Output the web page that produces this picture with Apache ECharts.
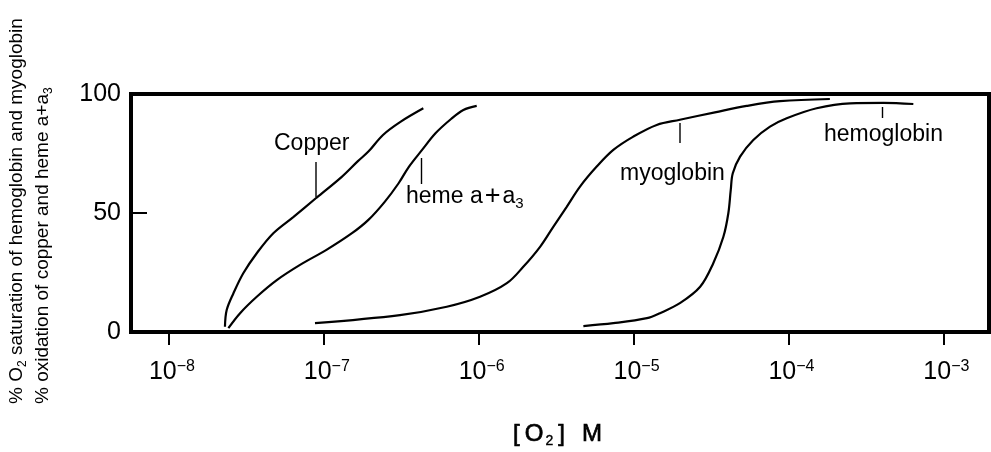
<!DOCTYPE html>
<html>
<head>
<meta charset="utf-8">
<script src="https://cdn.jsdelivr.net/npm/echarts@6/dist/echarts.min.js"></script>
<style>
  html, body { margin: 0; padding: 0; background: #fff; }
  #chart { width: 991px; height: 452px; }
</style>
</head>
<body>
<div id="chart"></div>
<script>
// Oxygen binding / oxidation curves versus O2 concentration (M), log scale.
// Each point: [O2 concentration in M, percent]
const copperData = [
  [2.30e-8, 2.2], [2.36e-8, 9.2], [2.61e-8, 16.3], [3.02e-8, 24.7], [3.69e-8, 33.1],
  [4.72e-8, 41.5], [6.35e-8, 48.3], [9.0e-8, 56.5], [1.30e-7, 65.1], [1.66e-7, 71.8],
  [1.94e-7, 75.8], [2.41e-7, 82.8], [3.14e-7, 88.4], [4.39e-7, 94.0]
];
const hemeData = [
  [2.42e-8, 1.6], [2.88e-8, 7.9], [3.69e-8, 14.8], [4.97e-8, 21.8], [7.02e-8, 28.2],
  [1.04e-7, 34.5], [1.52e-7, 41.5], [1.94e-7, 47.1], [2.48e-7, 54.8], [3.04e-7, 62.5],
  [3.55e-7, 69.5], [4.31e-7, 76.5], [5.26e-7, 83.5], [6.63e-7, 89.5], [7.96e-7, 93.3],
  [9.71e-7, 95.0]
];
const myoglobinData = [
  [8.77e-8, 3.7], [3.10e-7, 7.1], [6.22e-7, 10.6], [1.02e-6, 14.8], [1.52e-6, 20.5],
  [1.94e-6, 27.4], [2.49e-6, 35.8], [3.03e-6, 44.2], [3.70e-6, 52.6], [4.51e-6, 61.1],
  [5.78e-6, 69.5], [7.40e-6, 76.5], [9.96e-6, 82.1], [1.41e-5, 87.0], [1.99e-5, 89.2],
  [3.35e-5, 92.3], [5.37e-5, 95.0], [8.82e-5, 97.0], [1.85e-4, 97.9]
];
const hemoglobinData = [
  [4.74e-6, 2.5], [7.40e-6, 3.7], [1.22e-5, 5.8], [1.48e-5, 7.9], [1.99e-5, 12.1],
  [2.69e-5, 19.0], [3.27e-5, 28.9], [3.80e-5, 40.0], [4.09e-5, 49.9], [4.24e-5, 59.7],
  [4.37e-5, 66.7], [4.87e-5, 73.7], [5.93e-5, 80.7], [7.60e-5, 86.3], [9.74e-5, 89.8],
  [1.52e-4, 94.0], [2.50e-4, 96.1], [4.10e-4, 96.3], [6.40e-4, 95.8]
];

// Decade ticks on the concentration axis and percent ticks
const decadeExponents = [-8, -7, -6, -5, -4, -3];
const percentTicks = [0, 50, 100];

const decadeValues = decadeExponents.map(e => Math.pow(10, e));

const FONT = "'Liberation Sans', Arial, sans-serif";
const NARROW = "'Liberation Sans Narrow', 'Liberation Sans', Arial, sans-serif";

const chart = echarts.init(document.getElementById('chart'), null, { renderer: 'canvas' });

const lineSeries = (name, data) => ({
  name: name,
  type: 'line',
  data: data,
  showSymbol: false,
  smooth: 0.35,
  lineStyle: { color: '#000', width: 2.2 },
  silent: true,
  z: 3
});

const leader = (x, y1, y2) => ({
  type: 'line',
  shape: { x1: x, y1: y1, x2: x, y2: y2 },
  style: { stroke: '#000', lineWidth: 1.4 },
  z: 10
});

const curveLabel = (x, y, text) => ({
  type: 'text',
  x: x, y: y,
  style: {
    text: text,
    fill: '#000',
    font: "23px " + FONT,
    align: 'left',
    verticalAlign: 'middle',
    rich: {
      t: { fontSize: 23, fontFamily: FONT, lineHeight: 28, fill: '#000' },
      p: { fontSize: 27, fontFamily: FONT, lineHeight: 28, fill: '#000', padding: [0, 2, 0, 2] },
      sub: { fontSize: 15, fontFamily: FONT, lineHeight: 16, verticalAlign: 'bottom', fill: '#000' }
    }
  },
  z: 10
});

const titleRich = {
  t: { fontSize: 19, fontFamily: FONT, lineHeight: 24, fill: '#000' },
  sub: { fontSize: 12, fontFamily: FONT, lineHeight: 14, verticalAlign: 'bottom', fill: '#000' }
};

// shared style for the concentration axis title
const axisTitleStyle = (extra) => Object.assign({
  fontSize: 24, fontFamily: FONT, lineHeight: 28, fill: '#000',
  stroke: '#000', lineWidth: 0.7
}, extra);

chart.setOption({
  animation: false,
  backgroundColor: '#fff',
  grid: {
    show: true,
    left: 131, right: 2, top: 94, bottom: 120,
    borderColor: '#000',
    borderWidth: 4,
    backgroundColor: 'transparent'
  },
  xAxis: {
    type: 'log',
    logBase: 10,
    min: 5.69e-9,
    max: 1.971e-3,
    axisLine: { show: false },
    splitLine: { show: false },
    minorTick: { show: false },
    axisTick: {
      show: true,
      customValues: decadeValues,
      length: 13,
      lineStyle: { color: '#000', width: 2 }
    },
    axisLabel: {
      customValues: decadeValues,
      margin: 27,
      showMinLabel: true,
      showMaxLabel: true,
      formatter: function (v) {
        const e = Math.round(Math.log10(v));
        return '{b|10}{s|\u2212' + Math.abs(e) + '}';
      },
      rich: {
        b: { fontSize: 25, fontFamily: FONT, lineHeight: 26, color: '#000', padding: [0, 0, 0, 6] },
        s: { fontSize: 16, fontFamily: FONT, lineHeight: 16, verticalAlign: 'top', color: '#000' }
      }
    }
  },
  yAxis: {
    type: 'value',
    min: percentTicks[0],
    max: percentTicks[percentTicks.length - 1],
    interval: percentTicks[1] - percentTicks[0],
    axisLine: { show: false },
    splitLine: { show: false },
    axisTick: {
      show: true,
      inside: true,
      length: 16,
      lineStyle: { color: '#000', width: 2 }
    },
    axisLabel: {
      margin: 10,
      fontSize: 25,
      fontFamily: NARROW,
      color: '#000'
    }
  },
  series: [
    lineSeries('Copper', copperData),
    lineSeries('heme a+a3', hemeData),
    lineSeries('myoglobin', myoglobinData),
    lineSeries('hemoglobin', hemoglobinData)
  ],
  graphic: [
    // vertical axis title, two lines reading bottom to top
    {
      type: 'text', x: 17, y: 404, rotation: Math.PI / 2,
      style: {
        text: '{t|% O}{sub|2}{t| saturation of hemoglobin and myoglobin}',
        align: 'left', verticalAlign: 'middle', rich: titleRich
      }
    },
    {
      type: 'text', x: 43, y: 404, rotation: Math.PI / 2,
      style: {
        text: '{t|% oxidation of copper and heme a+a}{sub|3}',
        align: 'left', verticalAlign: 'middle', rich: titleRich
      }
    },
    // horizontal axis title
    {
      type: 'text', x: 556, y: 434,
      style: {
        text: '{k|[}{o|O}{sub|2}{k|]}{m|M}',
        align: 'center', verticalAlign: 'middle',
        rich: {
          k: axisTitleStyle({ padding: [0, 3, 0, 3] }),
          o: axisTitleStyle({ padding: [0, 1, 0, 2] }),
          m: axisTitleStyle({ padding: [0, 0, 0, 14] }),
          sub: axisTitleStyle({ fontSize: 14, lineHeight: 16, verticalAlign: 'bottom', lineWidth: 0.4, padding: [0, 2, 0, 1] })
        }
      }
    },
    // curve names with leader lines
    curveLabel(274, 143.7, '{t|Copper}'),
    leader(316, 162, 197),
    curveLabel(406, 197, '{t|heme a}{p|+}{t|a}{sub|3}'),
    leader(421.5, 158, 184),
    curveLabel(620, 173.7, '{t|myoglobin}'),
    leader(680, 123, 143),
    curveLabel(824, 134.7, '{t|hemoglobin}'),
    leader(882.5, 107, 118)
  ]
});
</script>
</body>
</html>
